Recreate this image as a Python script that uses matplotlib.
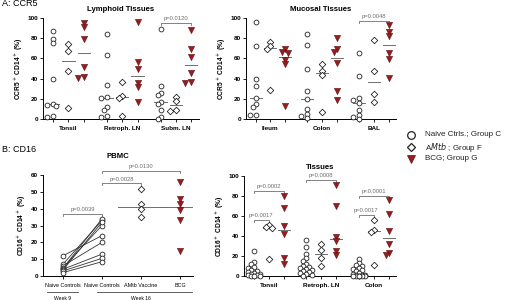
import matplotlib
matplotlib.use("Agg")
import matplotlib.pyplot as plt
import numpy as np

plt.rcParams['font.family'] = ['Liberation Sans', 'DejaVu Sans']

# ---- data ----
lymph_cats = ["Tonsil", "Retroph. LN", "Subm. LN"]
lymph_naive = [[87, 79, 75, 40, 15, 14, 13, 3, 2],
               [84, 63, 34, 22, 21, 12, 9, 3, 2],
               [89, 33, 26, 24, 17, 15, 9, 2, 0]]
lymph_amtb = [[74, 67, 48, 11], [37, 23, 21, 3], [22, 18, 9, 8]]
lymph_bcg = [[95, 91, 79, 51, 42, 41], [96, 56, 50, 36, 32, 17], [88, 69, 61, 46, 37, 36]]

muc_cats = ["Ileum", "Colon", "BAL"]
muc_naive = [[96, 72, 40, 33, 21, 15, 12, 4, 4],
             [84, 73, 50, 28, 20, 10, 5, 3, 1],
             [65, 43, 21, 19, 16, 9, 4, 2, 0]]
muc_amtb = [[76, 72, 69, 29], [54, 48, 44, 7], [78, 48, 25, 17]]
muc_bcg = [[69, 66, 65, 58, 54, 13], [80, 69, 66, 55, 28, 19], [93, 86, 82, 65, 59, 41]]

pbmc_cats = ["Naive Controls", "Naive Controls", "AMtb Vaccine", "BCG"]
pbmc_wk9 = [12, 7, 6, 5, 4.5, 4, 3.5, 3, 2]
pbmc_wk16 = [24, 33, 20, 30, 34, 13, 32, 10.5, 8.5]
pbmc_amtb = [51.5, 42.5, 40, 35]
pbmc_bcg = [56, 45.5, 43, 39, 33.5, 15]

tis_cats = ["Tonsil", "Retroph. LN", "Colon"]
tis_naive = [[25, 14, 12, 9, 8, 6, 5, 4, 3, 2, 2, 1, 1, 0, 0, 0],
             [36, 29, 22, 18, 15, 12, 10, 9, 8, 7, 6, 5, 4, 3, 2, 1, 0],
             [17, 13, 11, 10, 8, 7, 6, 5, 3, 2, 1, 1, 1, 0, 0, 0, 0, 0, 0]]
tis_amtb = [[51, 49, 48, 17], [32, 26, 18, 10], [56, 46, 44, 11]]
tis_bcg = [[80, 68, 50, 42, 18, 12], [91, 70, 39, 35, 25, 21], [76, 62, 45, 32, 23, 21]]

# brackets: (category, group from, group to, text, y level)
lymph_pvals = [(2, 0, 2, "p=0.0120", 95)]
muc_pvals = [(2, 0, 2, "p=0.0048", 97)]
tis_pvals = [(0, 0, 2, "p=0.0002", 85), (0, 0, 1, "p=0.0017", 56),
             (1, 0, 2, "p=0.0008", 96), (2, 0, 2, "p<0.0001", 80),
             (2, 0, 1, "p=0.0017", 61.5)]
# PBMC brackets: (x from, x to, text, y level)
pbmc_pvals = [(0, 1, "p=0.0039", 37), (1, 2, "p=0.0028", 55), (1, 3, "p=0.0130", 62.5)]

RED = "#9b1c1f"
GRAY = "#6e6e6e"
W, H = 507, 300
GAP = 3.5


def swarm(vals, xpx, ypx, step=0.2):
    # small beeswarm so points don't sit exactly on top of each other
    placed = []
    offs = np.zeros(len(vals))
    order = np.argsort(vals)[::-1]
    for i in order:
        v = vals[i]
        best, bestd = 0.0, -1
        for k in [0, -1, 1, -2, 2]:
            dx = k * step
            d = min([np.hypot((dx - px) * xpx, (v - pv) * ypx) for px, pv in placed] + [99])
            if d >= 3.6:
                best = dx
                break
            if d > bestd:
                best, bestd = dx, d
        placed.append((best, v))
        offs[i] = best
    return offs


def style_axes(ax):
    for s in ["top", "right"]:
        ax.spines[s].set_visible(False)
    for s in ["left", "bottom"]:
        ax.spines[s].set_linewidth(0.7)
    ax.tick_params(axis="both", length=2, width=0.6, pad=1.5, labelsize=4.6)
    for lab in ax.get_yticklabels():
        lab.set_fontweight("bold")


def bracket(ax, x1, x2, y, txt, dy=2.0):
    ax.plot([x1, x1, x2, x2], [y - dy, y, y, y - dy], color=GRAY, lw=0.6, clip_on=False)
    ax.text((x1 + x2) / 2, y + 0.8 * dy, txt, ha="center", va="bottom",
            fontsize=4.2, color=GRAY, clip_on=False)


def dot_panel(rect, cats, naive, amtb, bcg, pvals, title, ylabel):
    ax = fig.add_axes(rect)
    xpx = rect[2] * W / (2 * GAP + 2 + 1.15)
    ypx = rect[3] * H / 100
    groups = [naive, amtb, bcg]
    for c in range(len(cats)):
        for g, data in enumerate(groups):
            vals = np.array(data[c], dtype=float)
            x0 = c * GAP + g
            offs = swarm(vals, xpx, ypx)
            if g == 0:
                ax.scatter(x0 + offs, vals, s=12, marker="o", facecolor="white",
                           edgecolor="#222222", linewidth=0.6, zorder=3, clip_on=False)
            elif g == 1:
                ax.scatter(x0 + offs, vals, s=11, marker="D", facecolor="white",
                           edgecolor="#222222", linewidth=0.6, zorder=3, clip_on=False)
            else:
                ax.scatter(x0 + offs, vals, s=20, marker="v", facecolor=RED,
                           edgecolor="#5a1012", linewidth=0.4, zorder=3, clip_on=False)
            med = np.median(vals)
            ax.plot([x0 - 0.4, x0 + 0.4], [med, med], color=GRAY, lw=0.7, zorder=2)
    for c, g1, g2, txt, y in pvals:
        bracket(ax, c * GAP + g1, c * GAP + g2, y, txt)
    ax.set_xlim(-0.65, 2 * GAP + 2.5)
    ax.set_ylim(0, 100)
    ax.set_yticks([0, 20, 40, 60, 80, 100])
    ticks = [c * GAP + g for c in range(len(cats)) for g in range(3)]
    labels = [cats[c] if g == 1 else "" for c in range(len(cats)) for g in range(3)]
    ax.set_xticks(ticks)
    ax.set_xticklabels(labels, fontweight="bold")
    style_axes(ax)
    ax.tick_params(axis="x", pad=3)
    ax.set_ylabel(ylabel, fontsize=4.8, fontweight="bold", labelpad=2)
    ax.set_title(title, fontsize=5.6, fontweight="bold", pad=5)
    return ax


fig = plt.figure(figsize=(W / 100, H / 100), dpi=100)

r1 = [43 / W, 1 - 119 / H, 156 / W, 101 / H]
r2 = [246 / W, 1 - 119 / H, 150 / W, 101 / H]
r4 = [244 / W, 1 - 276 / H, 152 / W, 100 / H]
r3 = [43 / W, 1 - 276 / H, 150 / W, 101 / H]

dot_panel(r1, lymph_cats, lymph_naive, lymph_amtb, lymph_bcg, lymph_pvals,
          "Lymphoid Tissues", "CCR5$^+$ CD14$^+$ (%)")
dot_panel(r2, muc_cats, muc_naive, muc_amtb, muc_bcg, muc_pvals,
          "Mucosal Tissues", "CCR5$^+$ CD14$^+$ (%)")
dot_panel(r4, tis_cats, tis_naive, tis_amtb, tis_bcg, tis_pvals,
          "Tissues", "CD16$^+$ CD14$^+$ (%)")

# ---- PBMC panel ----
ax = fig.add_axes(r3)
for a, b in zip(pbmc_wk9, pbmc_wk16):
    ax.plot([0, 1], [a, b], color="#333333", lw=0.6, zorder=2)
ax.scatter(np.zeros(len(pbmc_wk9)), pbmc_wk9, s=12, marker="o", facecolor="white",
           edgecolor="#222222", linewidth=0.6, zorder=3)
ax.scatter(np.ones(len(pbmc_wk16)), pbmc_wk16, s=12, marker="o", facecolor="white",
           edgecolor="#222222", linewidth=0.6, zorder=3)
xpx = r3[2] * W / 3.84
ypx = r3[3] * H / 60
offs = swarm(np.array(pbmc_amtb), xpx, ypx, step=0.2)
ax.scatter(2 + offs, pbmc_amtb, s=11, marker="D", facecolor="white",
           edgecolor="#222222", linewidth=0.6, zorder=3)
offs = swarm(np.array(pbmc_bcg), xpx, ypx, step=0.2)
ax.scatter(3 + offs, pbmc_bcg, s=20, marker="v", facecolor=RED,
           edgecolor="#5a1012", linewidth=0.4, zorder=3)
for x0, vals in [(2, pbmc_amtb), (3, pbmc_bcg)]:
    med = np.median(vals)
    ax.plot([x0 - 0.58, x0 + 0.58], [med, med], color=GRAY, lw=0.7, zorder=2)
for x1, x2, txt, y in pbmc_pvals:
    bracket(ax, x1, x2, y, txt, dy=1.2)
ax.set_xlim(-0.51, 3.33)
ax.set_ylim(0, 60)
ax.set_yticks([0, 10, 20, 30, 40, 50, 60])
ax.set_xticks(range(4))
ax.set_xticklabels(pbmc_cats)
style_axes(ax)
ax.tick_params(axis="x", labelsize=3.9, pad=3)
ax.set_ylabel("CD16$^+$ CD14$^+$ (%)", fontsize=4.8, fontweight="bold", labelpad=2)
ax.set_title("PBMC", fontsize=5.6, fontweight="bold", pad=12)
tr = ax.get_xaxis_transform()
ax.plot([-0.41, 0.38], [-0.155, -0.155], color="#444444", lw=0.6, transform=tr, clip_on=False)
ax.plot([0.87, 3.3], [-0.155, -0.155], color="#444444", lw=0.6, transform=tr, clip_on=False)
ax.text(0, -0.2, "Week 9", fontsize=3.6, ha="center", va="top", transform=tr)
ax.text(2.0, -0.2, "Week 16", fontsize=3.6, ha="center", va="top", transform=tr)

# ---- panel labels ----
fig.text(2 / W, 1 - 4 / H, "A: CCR5", fontsize=6.5, va="center", ha="left")
fig.text(2 / W, 1 - 150 / H, "B: CD16", fontsize=6.5, va="center", ha="left")

# ---- legend ----
leg = [("o", "white", "Naive Ctrls.; Group C", 135),
       ("D", "white", "A$\\it{Mtb}$ ; Group F", 147),
       ("v", RED, "BCG; Group G", 159)]
for m, fc, txt, yp in leg:
    fig.lines.append(plt.Line2D([411 / W], [1 - yp / H], marker=m, markersize=5.5 if m != "D" else 4.4,
                                markerfacecolor=fc, markeredgecolor="#222222" if m != "v" else "#5a1012",
                                markeredgewidth=0.9 if m != "v" else 0.5, linestyle="none",
                                transform=fig.transFigure))
    fig.text(425 / W, 1 - yp / H, txt, fontsize=5.8, va="center", ha="left", color="#222222")

fig.savefig("out.png", dpi=100)
